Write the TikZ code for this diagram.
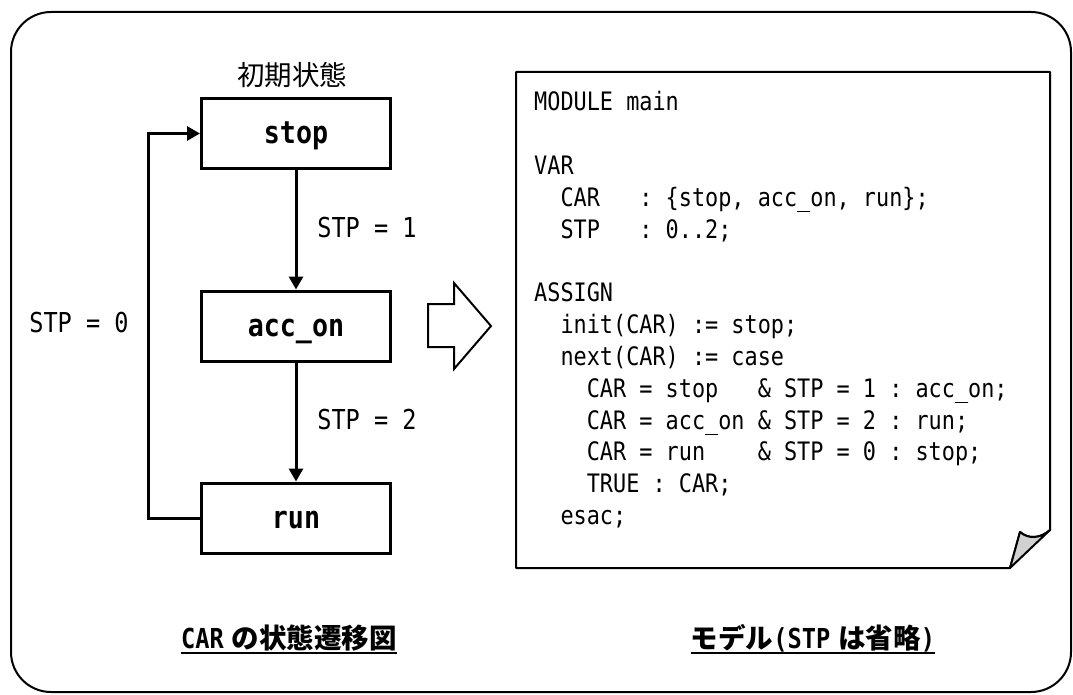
\documentclass[tikz,border=0pt]{standalone}
\usepackage{fontspec}
\newfontfamily\codefont[FakeStretch=0.86,WordSpace={1,0,0}]{DejaVu Sans Mono}
\newfontfamily\cjk{Noto Sans CJK JP}
\usetikzlibrary{arrows.meta}
\begin{document}
\begin{tikzpicture}[x=1pt,y=-1pt,
  state/.style={draw, line width=3pt, minimum width=189pt, minimum height=70pt,
    inner sep=0pt, text height=20pt, text depth=0pt,
    font=\codefont\bfseries\fontsize{31}{31}\selectfont},
  tr/.style={line width=3pt, -{Triangle[length=13pt,width=14pt]}},
  lbl/.style={inner sep=0pt, anchor=base, font=\codefont\fontsize{27.4}{30}\selectfont},
  code/.style={inner sep=0pt, anchor=base west, font=\codefont\fontsize{25.4}{30}\selectfont},
  captxt/.style={inner sep=0pt, anchor=base},
  uline/.style={line width=2pt}]
\useasboundingbox (0,0) rectangle (1073,695);
% outer frame
\draw[line width=2pt, rounded corners=40pt] (11,12) rectangle (1071,692);

% state diagram
\node[inner sep=0pt, anchor=base, font=\cjk\fontsize{27.5}{30}\selectfont] (init) at (292,86) {初期状態};
\node[state] (stop) at (296,133.5) {stop};
\node[state] (acc) at (296,326) {acc\_on};
\node[state] (run) at (296,518) {run};
\draw[tr] (stop) -- (acc);
\draw[tr] (acc) -- (run);
\coordinate (lb) at (148,518);
\coordinate (lt) at (148,133.5);
\draw[tr] (run.west) -- (lb) -- (lt) -- (stop.west);
\node[lbl] (s1) at (367,237) {STP = 1};
\node[lbl] (s2) at (367,429) {STP = 2};
\node[lbl] (s0) at (79,332) {STP = 0};

% hollow arrow
\draw[line width=2pt, fill=white] (428,304) -- (454,304) -- (454,283) -- (491,326)
  -- (454,369) -- (454,347) -- (428,347) -- cycle;

% code note
\draw[line width=2pt, line join=round] (516,72) -- (1050,72) -- (1050,530)
  .. controls (1040,539) and (1028,539) .. (1020,532) -- (1010,568) -- (516,568) -- cycle;
\filldraw[fill=black!18, line width=2pt, line join=round] (1010,568) -- (1020,532)
  .. controls (1028,539) and (1040,539) .. (1050,530) -- cycle;

\node[code] (c0) at (534,111) {MODULE~main};
\node[code] (c2) at (534,174.6) {VAR};
\node[code] (c3) at (534,206.4) {~~CAR~~~:~\{stop,~acc\_on,~run\};};
\node[code] (c4) at (534,238.2) {~~STP~~~:~0..2;};
\node[code] (c6) at (534,301.8) {ASSIGN};
\node[code] (c7) at (534,333.6) {~~init(CAR)~:=~stop;};
\node[code] (c8) at (534,365.4) {~~next(CAR)~:=~case};
\node[code] (c9) at (534,397.2) {~~~~CAR~=~stop~~~\&~STP~=~1~:~acc\_on;};
\node[code] (c10) at (534,429) {~~~~CAR~=~acc\_on~\&~STP~=~2~:~run;};
\node[code] (c11) at (534,460.8) {~~~~CAR~=~run~~~~\&~STP~=~0~:~stop;};
\node[code] (c12) at (534,492.6) {~~~~TRUE~:~CAR;};
\node[code] (c13) at (534,524.4) {~~esac;};

% captions
\node[captxt] (capl) at (289,648) {\codefont\bfseries\fontsize{27.5}{30}\selectfont CAR\hspace{8pt}\cjk\bfseries の状態遷移図};
\node[captxt] (capr) at (813,648) {\cjk\bfseries\fontsize{27.5}{30}\selectfont モデル\codefont\bfseries(STP\hspace{8pt}\cjk\bfseries は省略\codefont\bfseries)};
\draw[uline] ([yshift=-5pt]capl.base west) -- ([yshift=-5pt]capl.base east);
\draw[uline] ([yshift=-5pt]capr.base west) -- ([yshift=-5pt]capr.base east);
\end{tikzpicture}
\end{document}
